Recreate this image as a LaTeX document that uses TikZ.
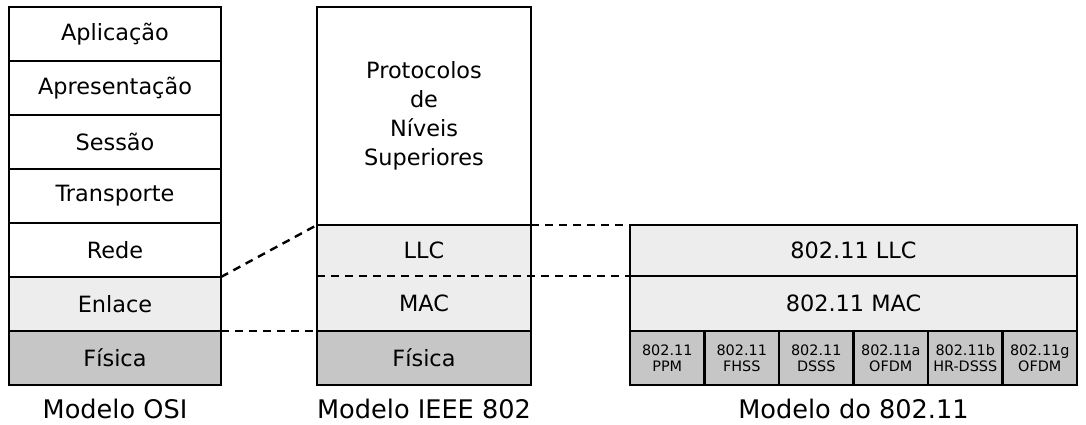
\documentclass[tikz,border=0pt]{standalone}
\usepackage{fontspec}
\setmainfont{DejaVu Sans}
\usetikzlibrary{positioning,calc}
\colorlet{camadaClara}{gray!14}
\colorlet{camadaEscura}{gray!45}

\begin{document}
\begin{tikzpicture}[x=0.5pt,y=-0.5pt,
    every node/.style={inner sep=0pt,outer sep=0pt,font=\fontsize{11.2}{14.5}\selectfont},
    camada/.style={draw,line width=1.1pt,fill=white,minimum width=106pt,minimum height=27pt},
    tracejado/.style={line width=1.2pt,dash pattern=on 4pt off 3pt},
    legenda/.style={font=\fontsize{12.8}{15}\selectfont},
    sub/.style={draw,line width=1.1pt,fill=camadaEscura,minimum width=37.25pt,minimum height=27pt,
        align=center,font=\fontsize{7.2}{8}\selectfont}]

            \useasboundingbox (0,0) rectangle (1086,424);

            % Modelo OSI
            \node[camada,anchor=north west] (apl) at (9,7) {Aplicação};
            \node[camada,below=0pt of apl] (apr) {Apresentação};
            \node[camada,below=0pt of apr] (ses) {Sessão};
            \node[camada,below=0pt of ses] (tra) {Transporte};
            \node[camada,below=0pt of tra] (red) {Rede};
            \node[camada,below=0pt of red,fill=camadaClara] (enl) {Enlace};
            \node[camada,below=0pt of enl,fill=camadaEscura] (fisOSI) {Física};

            % Modelo IEEE 802
            \node[camada,anchor=north west,minimum width=107pt,minimum height=109pt,align=center] (prot) at (317,7)
                {Protocolos\\de\\Níveis\\Superiores};
            \node[camada,draw=none,fill=camadaClara,below=0pt of prot,minimum width=107pt,minimum height=25.5pt] (llc) {LLC};
            \node[camada,draw=none,fill=camadaClara,below=0pt of llc,minimum width=107pt,minimum height=27.5pt] (mac) {MAC};
            \draw[line width=1.1pt] (llc.north west) rectangle (mac.south east);
            \node[camada,below=0pt of mac,minimum width=107pt,fill=camadaEscura] (fisIEEE) {Física};

            % Modelo do 802.11
            \node[camada,anchor=north west,minimum width=223.5pt,minimum height=25.5pt,fill=camadaClara] (wllc) at (630,225) {802.11 LLC};
            \node[camada,below=0pt of wllc,minimum width=223.5pt,minimum height=27.5pt,fill=camadaClara] (wmac) {802.11 MAC};
            \foreach \i/\txt in {0/{802.11\\PPM},1/{802.11\\FHSS},2/{802.11\\DSSS},
                                 3/{802.11a\\OFDM},4/{802.11b\\HR-DSSS},5/{802.11g\\OFDM}}
                \node[sub,anchor=north west] (phy\i) at ($(wmac.south west)+(\i*74.5,0)$) {\txt};

            % ligacoes tracejadas
            \draw[tracejado] (enl.north east) -- (llc.north west);
            \draw[tracejado] (fisOSI.north east) -- (fisIEEE.north west);
            \draw[tracejado] (llc.north east) -- (wllc.north west);
            \draw[tracejado] (mac.north west) -- (wmac.north west);

            % legendas
            \node[legenda] (lOSI) at ($(fisOSI.south)+(0,24)$) {Modelo OSI};
            \node[legenda] (lIEEE) at ($(fisIEEE.south)+(0,24)$) {Modelo IEEE 802};
            \node[legenda] (lW) at ($(phy0.south west)!0.5!(phy5.south east)+(0,24)$) {Modelo do 802.11};

\end{tikzpicture}
\end{document}
